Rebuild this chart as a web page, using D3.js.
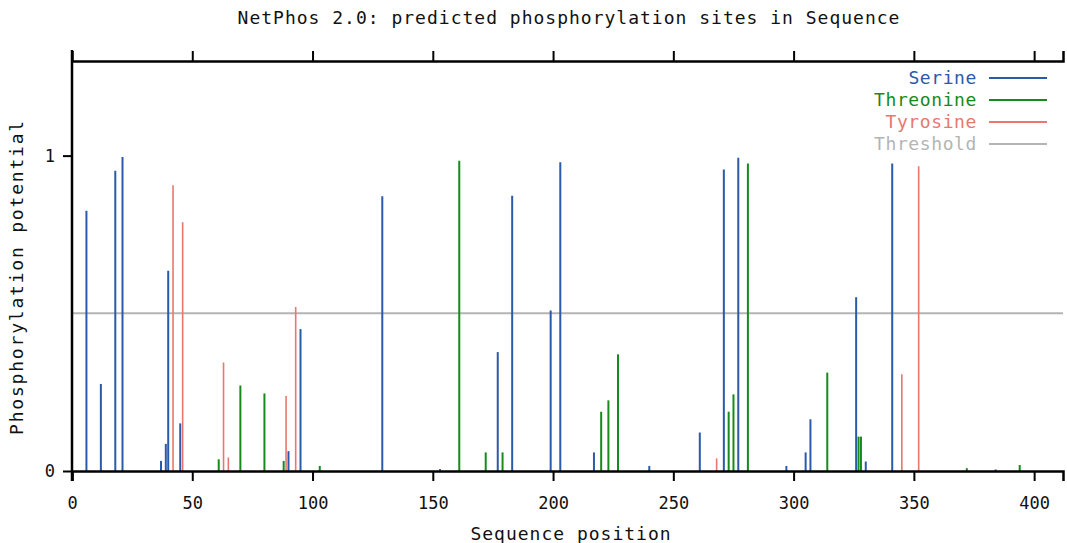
<!DOCTYPE html>
<html>
<head>
<meta charset="utf-8">
<script src="https://cdn.jsdelivr.net/npm/d3@7"></script>
<style>
    body { margin: 0; background: #fff; }
    svg text { font-family: "DejaVu Sans Mono", monospace; fill: #111; }
</style>
</head>
<body>
<svg id="chart" width="1067" height="543"></svg>
<script>
// Predicted sites: sequence positions and scores for each residue type
const SERINE_POS = [6, 12, 18, 21, 37, 39, 40, 45, 90, 95, 129, 153, 177, 183, 199, 203, 217, 240, 261, 271, 277, 297, 305, 307, 326, 330, 341, 384];
const SERINE_VAL = [0.825, 0.276, 0.952, 0.996, 0.032, 0.086, 0.635, 0.151, 0.063, 0.45, 0.871, 0.006, 0.377, 0.873, 0.509, 0.979, 0.059, 0.016, 0.122, 0.956, 0.993, 0.016, 0.059, 0.164, 0.551, 0.03, 0.975, 0.005];

const THREONINE_POS = [61, 70, 80, 88, 103, 161, 172, 179, 220, 223, 227, 273, 275, 281, 314, 327, 328, 372, 394];
const THREONINE_VAL = [0.037, 0.271, 0.246, 0.032, 0.016, 0.984, 0.059, 0.059, 0.188, 0.224, 0.37, 0.188, 0.243, 0.975, 0.312, 0.109, 0.109, 0.009, 0.019];

const TYROSINE_POS = [42, 46, 63, 65, 89, 93, 268, 345, 352];
const TYROSINE_VAL = [0.906, 0.789, 0.344, 0.043, 0.238, 0.52, 0.04, 0.307, 0.966];

const THRESHOLD = 0.5;
const X_TICKS = [0, 50, 100, 150, 200, 250, 300, 350, 400];
const Y_TICKS = [0, 1];

const SERIES = [
    { name: "Serine", colour: "#2a5aaa", pos: SERINE_POS, val: SERINE_VAL },
    { name: "Threonine", colour: "#168a1a", pos: THREONINE_POS, val: THREONINE_VAL },
    { name: "Tyrosine", colour: "#e8776e", pos: TYROSINE_POS, val: TYROSINE_VAL }
];
const LEGEND = SERIES.map(s => ({ name: s.name, colour: s.colour })).concat([{ name: "Threshold", colour: "#b4b4b4" }]);

const svg = d3.select("#chart");

const x = d3.scaleLinear().domain([0, 412]).range([72, 1063]);
const y = d3.scaleLinear().domain([0, 1.3]).range([471, 61]);

// Title
svg.append("text")
    .attr("x", 569).attr("y", 24)
    .attr("text-anchor", "middle")
    .style("font-size", "18px")
    .style("letter-spacing", "1px")
    .text("NetPhos 2.0: predicted phosphorylation sites in Sequence");

// Threshold line
svg.append("line")
    .attr("x1", x(0)).attr("x2", x(412))
    .attr("y1", y(THRESHOLD)).attr("y2", y(THRESHOLD))
    .attr("stroke", "#b4b4b4").attr("stroke-width", 2);

// Bars (drawn as vertical lines from zero)
SERIES.forEach(s => {
    svg.append("g")
        .selectAll("line")
        .data(s.pos.map((p, i) => ({ p, v: s.val[i] })))
        .enter()
        .append("line")
        .attr("x1", d => x(d.p)).attr("x2", d => x(d.p))
        .attr("y1", y(0)).attr("y2", d => y(d.v))
        .attr("stroke", s.colour)
        .attr("stroke-width", s.name === "Tyrosine" ? 1.6 : 2);
});

// Axes
const bottomAxis = svg.append("g")
    .attr("transform", `translate(0,${y(0)})`)
    .call(d3.axisBottom(x).tickValues(X_TICKS).tickSize(10).tickPadding(16));

const topAxis = svg.append("g")
    .attr("transform", `translate(0,${y(1.3)})`)
    .call(d3.axisTop(x).tickValues(X_TICKS.slice(1)).tickSize(10).tickFormat(""));

const leftAxis = svg.append("g")
    .attr("transform", `translate(${x(0)},0)`)
    .call(d3.axisLeft(y).tickValues(Y_TICKS).tickSize(9).tickPadding(8).tickFormat(d3.format("d")));

[bottomAxis, topAxis, leftAxis].forEach(g => {
    g.select(".domain").attr("stroke", "#000").attr("stroke-width", 2.5);
    g.selectAll(".tick line").attr("stroke", "#000").attr("stroke-width", 2);
    g.selectAll(".tick text").style("font-size", "17px").style("font-family", "DejaVu Sans Mono").attr("fill", "#111");
});
// left axis runs a bit above the top frame line
leftAxis.select(".domain").attr("d", `M0,${y(1.3) - 11}V${y(0) + 10}`);

// Axis titles
svg.append("text")
    .attr("x", 571).attr("y", 540)
    .attr("text-anchor", "middle")
    .style("font-size", "18px")
    .style("letter-spacing", "1px")
    .text("Sequence position");

svg.append("text")
    .attr("transform", "translate(23,277) rotate(-90)")
    .attr("text-anchor", "middle")
    .style("font-size", "18px")
    .style("letter-spacing", "1.8px")
    .text("Phosphorylation potential");

// Legend
const legendItem = svg.append("g")
    .selectAll("g")
    .data(LEGEND)
    .enter()
    .append("g")
    .attr("transform", (d, i) => `translate(0,${78 + i * 22})`);

legendItem.append("text")
    .attr("x", 977).attr("y", 6)
    .attr("text-anchor", "end")
    .style("font-size", "18px")
    .style("letter-spacing", "0.6px")
    .style("fill", d => d.colour)
    .text(d => d.name);

legendItem.append("line")
    .attr("x1", 989).attr("x2", 1047)
    .attr("stroke", d => d.colour)
    .attr("stroke-width", 2);
</script>
</body>
</html>
